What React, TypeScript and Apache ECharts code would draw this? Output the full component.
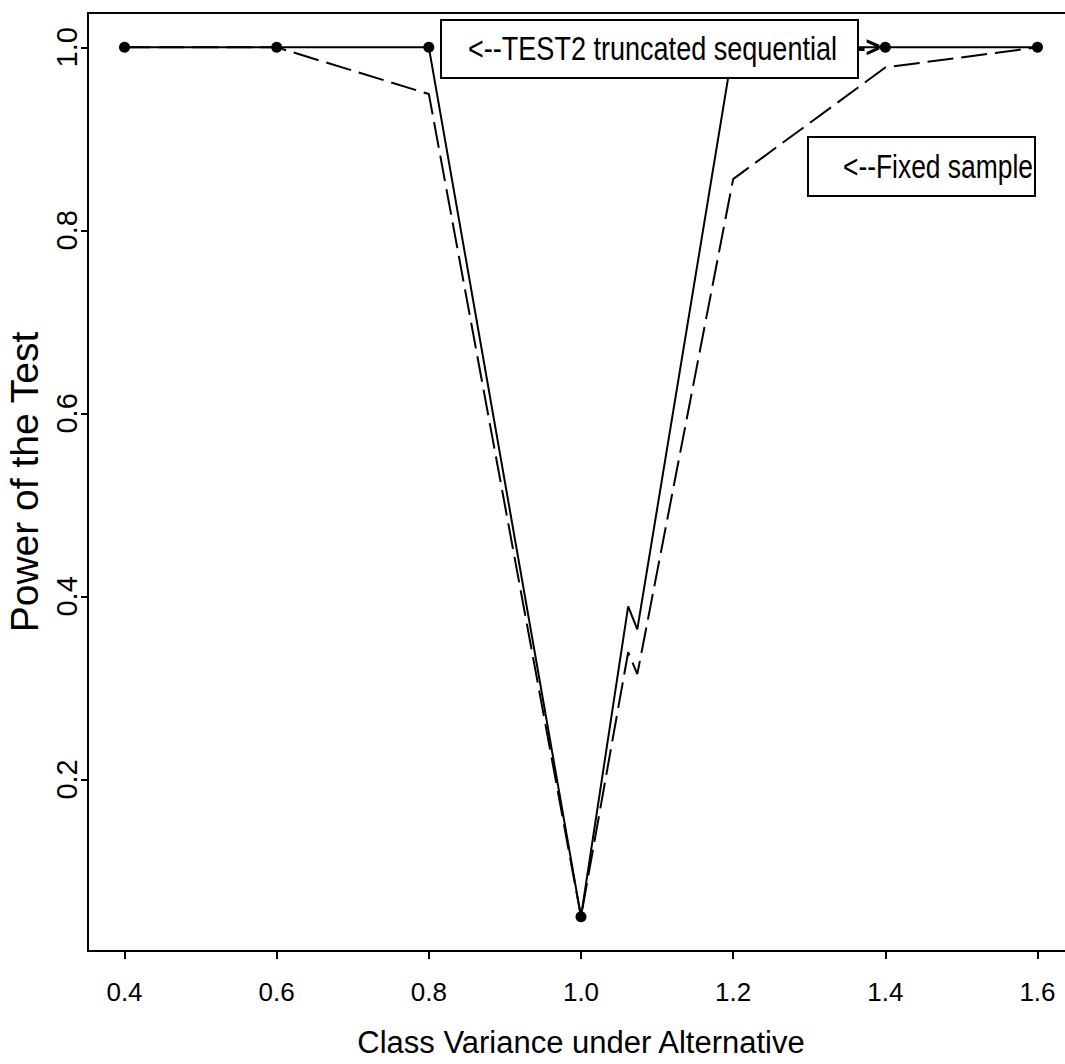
import React, { useEffect, useRef } from "react";
import * as echarts from "echarts";

// Class variance under the alternative (x) and power of the test (y)
const sequentialX = [0.4, 0.6, 0.8, 1.0, 1.062, 1.074, 1.2, 1.4, 1.6];
const sequentialY = [1.0, 1.0, 1.0, 0.05, 0.389, 0.364, 1.0, 1.0, 1.0];
const sequentialMarked = [true, true, true, true, false, false, false, true, true];

const fixedX = [0.4, 0.6, 0.8, 1.0, 1.062, 1.074, 1.2, 1.4, 1.6];
const fixedY = [1.0, 1.0, 0.949, 0.05, 0.339, 0.315, 0.856, 0.978, 1.0];

const xTicks = [0.4, 0.6, 0.8, 1.0, 1.2, 1.4, 1.6];
const yTicks = [0.2, 0.4, 0.6, 0.8, 1.0];

const xTitle = "Class Variance under Alternative";
const yTitle = "Power of the Test";
const labelSequential = "<--TEST2 truncated sequential";
const labelFixed = "<--Fixed sample";

const SANS = "'Liberation Sans', Arial, Helvetica, sans-serif";

export default function App() {
  const ref = useRef<HTMLDivElement>(null);

  useEffect(() => {
    if (!ref.current) return;
    const chart = echarts.init(ref.current, null, { renderer: "svg" });

    const seqData = sequentialX.map((x, i) => ({
      value: [x, sequentialY[i]],
      symbol: sequentialMarked[i] ? "circle" : "none",
    }));
    const fixedData = fixedX.map((x, i) => [x, fixedY[i]]);

    const xMin = 0.352;
    const xMax = 1.648;

    chart.setOption({
      animation: false,
      backgroundColor: "#fff",
      grid: {
        show: false,
        left: 88,
        top: 13,
        width: 986,
        height: 938,
        outerBoundsMode: "none",
        containLabel: false,
      },
      xAxis: [
        {
          type: "value",
          min: xMin,
          max: xMax,
          position: "bottom",
          name: xTitle,
          nameLocation: "middle",
          nameGap: 76,
          nameTextStyle: { fontFamily: SANS, fontSize: 31, color: "#000" },
          axisLine: { show: true, onZero: false, lineStyle: { color: "#000", width: 2 } },
          axisTick: {
            show: true,
            customValues: xTicks,
            length: 8,
            lineStyle: { color: "#000", width: 2 },
          },
          axisLabel: {
            customValues: xTicks,
            formatter: (v: number) => v.toFixed(1),
            fontFamily: SANS,
            fontSize: 26,
            color: "#000",
            margin: 28,
          },
          splitLine: { show: false },
        },
        {
          type: "value",
          min: xMin,
          max: xMax,
          position: "top",
          axisLine: { show: true, onZero: false, lineStyle: { color: "#000", width: 2 } },
          axisTick: { show: false },
          axisLabel: { show: false },
          splitLine: { show: false },
        },
      ],
      yAxis: {
        type: "value",
        min: 0.0125,
        max: 1.0375,
        name: yTitle,
        nameLocation: "middle",
        nameRotate: 90,
        nameGap: 44,
        nameTextStyle: { fontFamily: SANS, fontSize: 39, color: "#000" },
        axisLine: { show: true, onZero: false, lineStyle: { color: "#000", width: 2 } },
        axisTick: {
          show: true,
          customValues: yTicks,
          length: 7,
          lineStyle: { color: "#000", width: 2 },
        },
        axisLabel: {
          customValues: yTicks,
          formatter: (v: number) => v.toFixed(1),
          rotate: 90,
          fontFamily: SANS,
          fontSize: 29,
          color: "#000",
          margin: 7,
        },
        splitLine: { show: false },
      },
      series: [
        {
          name: "Fixed sample",
          type: "line",
          data: fixedData,
          showSymbol: false,
          symbol: "none",
          lineStyle: { color: "#000", width: 2, type: [26, 8] },
          z: 2,
        },
        {
          name: "TEST2 truncated sequential",
          type: "line",
          data: seqData,
          symbolSize: 11,
          itemStyle: { color: "#000" },
          lineStyle: { color: "#000", width: 2 },
          z: 3,
        },
      ],
      graphic: [
        {
          type: "group",
          z: 100,
          children: [
            {
              type: "rect",
              shape: { x: 441, y: 20, width: 417, height: 58 },
              style: { fill: "#fff", stroke: "#000", lineWidth: 2 },
              z: 100,
            },
            {
              type: "text",
              x: 468,
              y: 49,
              scaleX: 0.82,
              style: {
                text: labelSequential,
                font: `33px ${SANS}`,
                fill: "#000",
                verticalAlign: "middle",
                align: "left",
              },
              z: 101,
            },
            {
              type: "text",
              x: 857,
              y: 47,
              scaleX: 0.85,
              style: {
                text: "->",
                font: `bold 30px ${SANS}`,
                fill: "#000",
                verticalAlign: "middle",
                align: "left",
              },
              z: 101,
            },
            {
              type: "rect",
              shape: { x: 808, y: 137, width: 227, height: 59 },
              style: { fill: "#fff", stroke: "#000", lineWidth: 2 },
              z: 100,
            },
            {
              type: "text",
              x: 843,
              y: 166,
              scaleX: 0.8,
              style: {
                text: labelFixed,
                font: `33px ${SANS}`,
                fill: "#000",
                verticalAlign: "middle",
                align: "left",
              },
              z: 101,
            },
          ],
        },
      ],
    });

    return () => chart.dispose();
  }, []);

  return (
    <div
      ref={ref}
      style={{ position: "absolute", left: 0, top: 0, width: 1065, height: 1064 }}
    />
  );
}
